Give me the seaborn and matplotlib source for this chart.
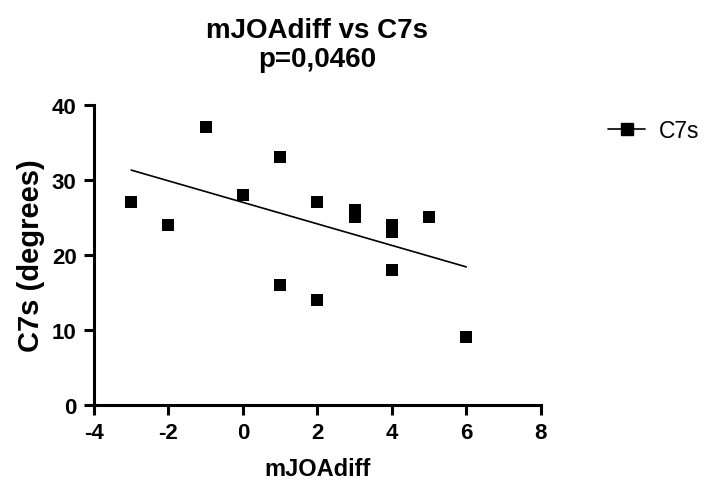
import matplotlib
matplotlib.use("Agg")
import matplotlib.pyplot as plt
import seaborn as sns
import pandas as pd
from matplotlib.lines import Line2D

sns.set_theme(style="ticks")
plt.rcParams["font.family"] = ["Liberation Sans", "DejaVu Sans"]
plt.rcParams.update({
    "text.color": "black",
    "axes.labelcolor": "black",
    "xtick.color": "black",
    "ytick.color": "black",
})

# Observations
mjoa_diff = [-3, -2, -1, 0, 1, 1, 2, 2, 3, 3, 4, 4, 4, 5, 6]
c7s = [27, 24, 37, 28, 33, 16, 27, 14, 26, 25, 24, 23, 18, 25, 9]

# Linear fit endpoints
fit_x = [-3, 6]
fit_y = [31.3, 18.4]

x_ticks = [-4, -2, 0, 2, 4, 6, 8]
y_ticks = [0, 10, 20, 30, 40]

df = pd.DataFrame({"mJOAdiff": mjoa_diff, "C7s": c7s})
fit = pd.DataFrame({"x": fit_x, "y": fit_y})

fig = plt.figure(figsize=(7.05, 4.81), dpi=100)
ax = fig.add_axes([0.1333, 0.156, 0.6337, 0.624])

sns.lineplot(data=fit, x="x", y="y", ax=ax, color="black", linewidth=1.2)
sns.scatterplot(data=df, x="mJOAdiff", y="C7s", ax=ax, marker="s", s=85,
                color="black", edgecolor="black", linewidth=0, zorder=3)

ax.set_xlim(-4, 8)
ax.set_ylim(0, 40)
ax.set_xticks(x_ticks)
ax.set_yticks(y_ticks)
ax.set_xticklabels([str(t) for t in x_ticks], fontsize=16, fontweight="bold")
ax.set_yticklabels([str(t) for t in y_ticks], fontsize=16, fontweight="bold")
ax.tick_params(axis="both", width=2.2, length=7.5, color="black", pad=5)

for side in ["top", "right"]:
    ax.spines[side].set_visible(False)
for side in ["left", "bottom"]:
    ax.spines[side].set_linewidth(2.2)
    ax.spines[side].set_color("black")

ax.set_xlabel("mJOAdiff", fontsize=17, fontweight="bold", labelpad=10)
ax.set_ylabel("C7s (degrees)", fontsize=21, fontweight="bold", labelpad=5)
ax.set_title("mJOAdiff vs C7s\np=0,0460", fontsize=20, fontweight="bold",
             pad=28, linespacing=1.15)

handle = Line2D([0], [0], color="black", linewidth=1.2, marker="s",
                markersize=9, markerfacecolor="black", markeredgecolor="black")
ax.legend([handle], ["C7s"], loc="upper left", bbox_to_anchor=(1.105, 1.02),
          frameon=False, fontsize=16.5, handlelength=1.6, handletextpad=0.6)

fig.savefig("out.png", dpi=100)
